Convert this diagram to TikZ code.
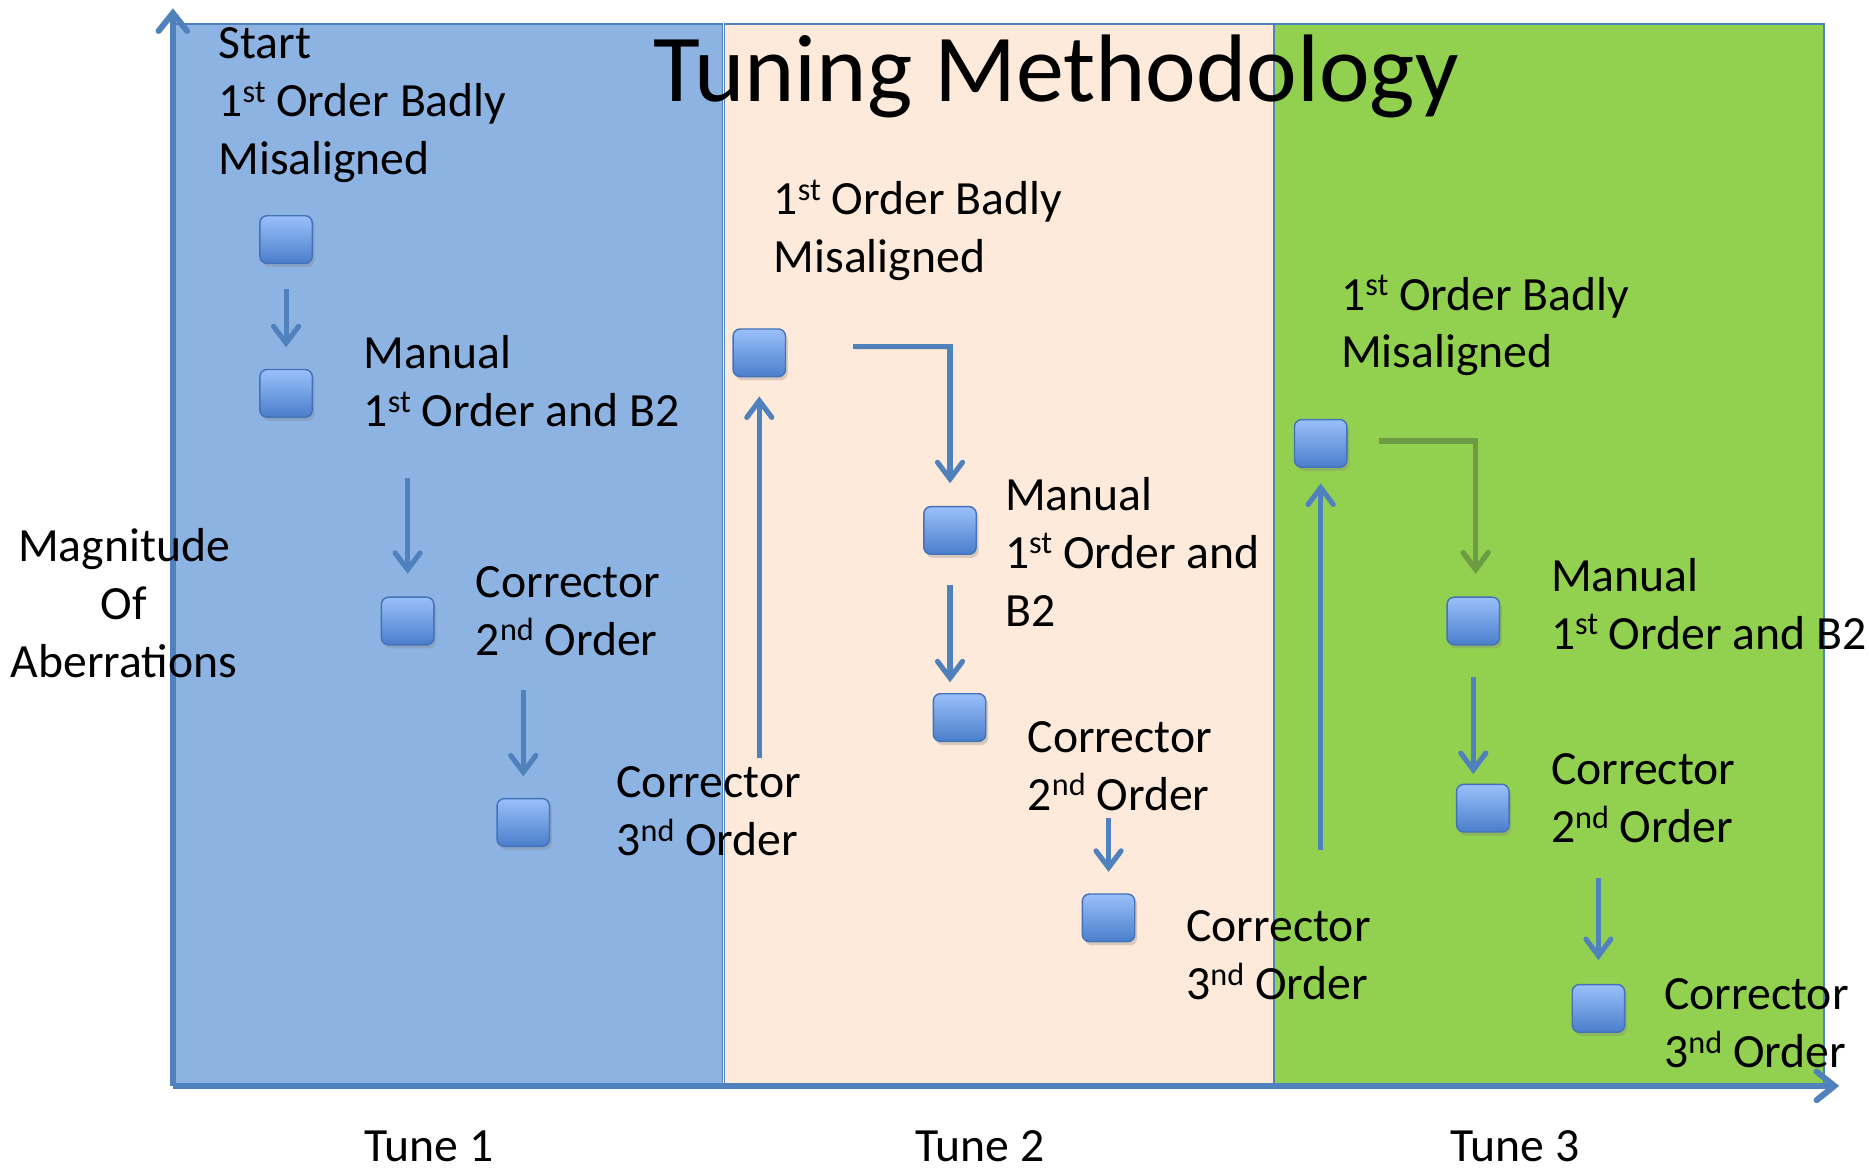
\documentclass[tikz,border=0pt]{standalone}
\usepackage{fontspec}
\setmainfont{Carlito}
\usetikzlibrary{arrows.meta,shadows}
\definecolor{pone}{HTML}{8DB3E2}
\definecolor{ptwo}{HTML}{FDEADA}
\definecolor{pthree}{HTML}{92D050}
\definecolor{axblue}{HTML}{4F81BD}
\definecolor{boxtop}{HTML}{9AC0FA}
\definecolor{boxbot}{HTML}{4A7ECB}
\definecolor{boxedge}{HTML}{4472B8}
\definecolor{darkgreen}{HTML}{6B9C43}
\tikzset{
  panel/.style={draw=axblue, line width=1.3pt},
  axisline/.style={draw=axblue, line width=5pt, -{Straight Barb[length=15pt,width=24pt,line cap=round]}, line cap=butt,
    preaction={draw=black!35, opacity=0.35, transform canvas={xshift=1.5pt,yshift=-2pt}}},
  flow/.style={draw=axblue, line width=4.3pt, -{Straight Barb[length=14pt,width=21pt,line cap=round]},
    preaction={draw=black!30, opacity=0.3, transform canvas={xshift=1.5pt,yshift=-2pt}}},
  flowgreen/.style={draw=darkgreen, line width=4.5pt, -{Straight Barb[length=14pt,width=21pt,line cap=round]}},
  stepbox/.style={draw=boxedge, line width=1.2pt, rounded corners=6pt, minimum width=44pt, minimum height=40pt,
    inner sep=0pt, top color=boxtop, bottom color=boxbot,
    drop shadow={shadow xshift=2pt, shadow yshift=-3pt, opacity=0.3}},
  lbl/.style={anchor=north west, inner sep=0pt, align=left, font=\fontsize{40}{48.5}\selectfont},
  clbl/.style={anchor=north, inner sep=0pt, align=center, font=\fontsize{40}{48.5}\selectfont},
}
\newcommand{\fl}{\rule{0pt}{32pt}}
\newcommand{\sps}[1]{\raisebox{12pt}{\fontsize{27}{27}\selectfont #1}}
\begin{document}
\begin{tikzpicture}[x=1pt, y=-1pt]
\useasboundingbox (0,0) rectangle (1568,984);
% panels
\filldraw[panel, fill=pone] (145,20) rectangle (606,910);
\filldraw[panel, fill=ptwo] (608,20) rectangle (1069,910);
\filldraw[panel, fill=pthree] (1069,20) rectangle (1530,910);
% title
\node[anchor=base, inner sep=0pt, font=\fontsize{80.5}{90}\selectfont] (title) at (886,85) {Tuning Methodology};
% axes
\coordinate (origin) at (145,911);
\coordinate (ytop) at (145,7);
\coordinate (xend) at (1543,911);
\draw[axisline] (origin) -- (ytop);
\draw[axisline] (origin) -- (xend);
% boxes
\node[stepbox] (a1) at (240,201) {};
\node[stepbox] (a2) at (240,330) {};
\node[stepbox] (a3) at (342,521) {};
\node[stepbox] (a4) at (439,690) {};
\node[stepbox] (b1) at (637,296) {};
\node[stepbox] (b2) at (797,445) {};
\node[stepbox] (b3) at (805,602) {};
\node[stepbox] (b4) at (930,770) {};
\node[stepbox] (c1) at (1108,372) {};
\node[stepbox] (c2) at (1236,521) {};
\node[stepbox] (c3) at (1244,678) {};
\node[stepbox] (c4) at (1341,846) {};
% connectors
\draw[flow, shorten <=21pt, shorten >=18pt] (a1.south) -- (a2.north);
\draw[flow, shorten <=50pt, shorten >=19pt] (a3 |- a2.south) -- (a3.north);
\draw[flow, shorten <=37pt, shorten >=18pt] (a4 |- a3.south) -- (a4.north);
\coordinate (up1) at (637,636);
\draw[flow, shorten >=16pt] (up1) -- (b1.south);
\coordinate (el1) at (716,291);
\draw[flow, shorten >=19pt] (el1) -| (b2.north);
\draw[flow, shorten <=25pt, shorten >=9pt] (b2.south) -- (b2.south |- b3.north);
\draw[flow, shorten <=64pt, shorten >=18pt] (b4 |- b3.south) -- (b4.north);
\coordinate (up2) at (1108,713);
\draw[flow, shorten >=13pt] (up2) -- (c1.south);
\coordinate (el2) at (1157,370);
\draw[flowgreen, shorten >=19pt] (el2) -| ([xshift=2pt]c2.north);
\draw[flow, shorten <=26pt, shorten >=8pt] (c2.south) -- (c2.south |- c3.north);
\draw[flow, shorten <=38pt, shorten >=20pt] (c4 |- c3.south) -- (c4.north);
% labels panel 1
\node[lbl] (ta1) at (183,17) {\fl Start\\1\sps{st} Order Badly\\Misaligned};
\node[lbl] (ta2) at (305,277) {\fl Manual\\1\sps{st} Order and B2};
\node[lbl] (ta3) at (399,469) {\fl Corrector\\2\sps{nd} Order};
\node[lbl] (ta4) at (517,637) {\fl Corrector\\3\sps{nd} Order};
% labels panel 2
\node[lbl] (tb1) at (649,148) {\fl 1\sps{st} Order Badly\\Misaligned};
\node[lbl] (tb2) at (843,396) {\fl Manual\\1\sps{st} Order and\\B2};
\node[lbl] (tb3) at (862,599) {\fl Corrector\\2\sps{nd} Order};
\node[lbl] (tb4) at (995,758) {\fl Corrector\\3\sps{nd} Order};
% labels panel 3
\node[lbl] (tc1) at (1125,228) {\fl 1\sps{st} Order Badly\\Misaligned};
\node[lbl] (tc2) at (1301,464) {\fl Manual\\1\sps{st} Order and B2};
\node[lbl] (tc3) at (1301,626) {\fl Corrector\\2\sps{nd} Order};
\node[lbl] (tc4) at (1396,815) {\fl Corrector\\3\sps{nd} Order};
% axis labels
\node[clbl] (ylab) at (104,439) {\fl Magnitude\\Of\\Aberrations};
\node[clbl] (t1) at (360,942) {\fl Tune 1};
\node[clbl] (t2) at (822,942) {\fl Tune 2};
\node[clbl] (t3) at (1271,942) {\fl Tune 3};
\end{tikzpicture}
\end{document}
